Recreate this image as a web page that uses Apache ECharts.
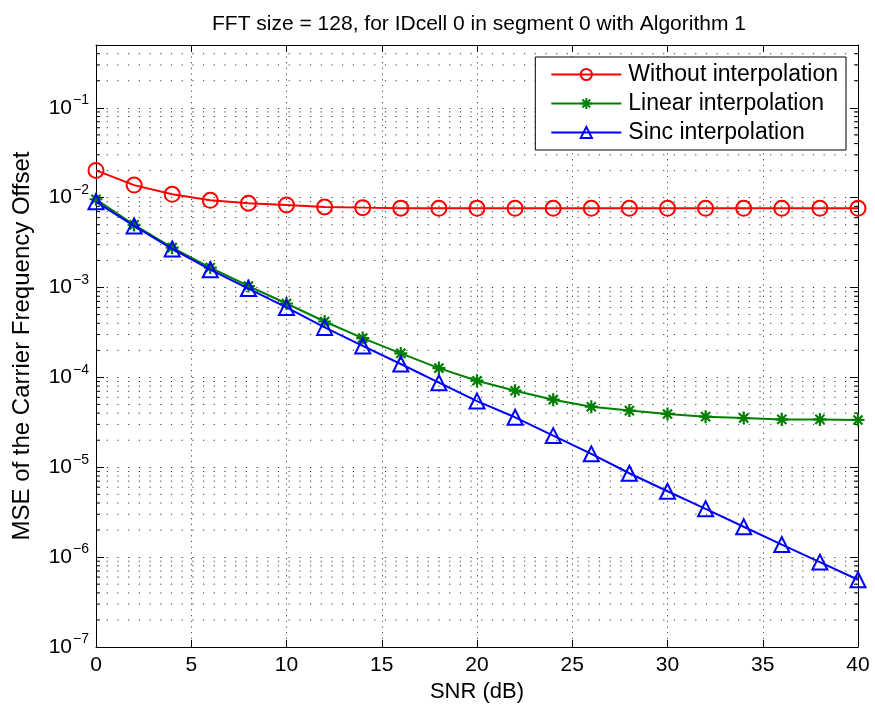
<!DOCTYPE html>
<html>
<head>
<meta charset="utf-8">
<script src="https://cdn.jsdelivr.net/npm/echarts@6/dist/echarts.min.js"></script>
<style>html,body{margin:0;padding:0;background:#fff}#c{width:875px;height:711px}</style>
</head>
<body>
<div id="c"></div>
<script>
const snr = [0,2,4,6,8,10,12,14,16,18,20,22,24,26,28,30,32,34,36,38,40];
const withoutInterp = [0.0201,0.0138,0.0109,0.00935,0.00867,0.0083,0.00788,0.00775,0.00765,0.00762,0.00762,0.00762,0.00762,0.00762,0.00762,0.00762,0.00762,0.00762,0.00762,0.00762,0.00762];
const linearInterp = [0.0096,0.00498,0.00278,0.00167,0.00104,0.000664,0.000419,0.000274,0.000185,0.000127,0.0000919,0.0000711,0.0000565,0.0000472,0.0000427,0.0000392,0.0000366,0.0000353,0.0000341,0.0000341,0.0000336];
const sincInterp = [0.0090,0.00485,0.00269,0.00158,0.000975,0.0006,0.00036,0.000224,0.000141,0.0000873,0.0000545,0.000036,0.0000225,0.0000141,0.00000858,0.00000541,0.00000345,0.00000218,0.00000138,0.00000088,0.00000056];
const seriesNames = ['Without interpolation','Linear interpolation','Sinc interpolation'];
const titleText = 'FFT size = 128, for IDcell 0 in segment 0 with Algorithm 1';
const xName = 'SNR (dB)';
const yName = 'MSE of the Carrier Frequency Offset';
const yMin = 1e-7, yMax = 0.5;
const xMin = 0, xMax = 40;
const minorMultipliers = [2,3,4,5,6,7,8,9];
const decades = [-7,-6,-5,-4,-3,-2,-1];

// minor grid values
const minorVals = [];
decades.forEach(d => minorMultipliers.forEach(m => {
  const v = m * Math.pow(10, d);
  if (v < yMax - 1e-12) minorVals.push(v);
}));

const FONT = 'Liberation Sans, Arial, Helvetica, sans-serif';
const chart = echarts.init(document.getElementById('c'), null, {renderer: 'canvas'});

const dotted = [1.2, 9.5];

const option = {
  backgroundColor: '#fff',
  animation: false,
  title: {
    text: titleText, left: 474, top: 9, textAlign: 'center',
    textStyle: {fontFamily: FONT, fontSize: 21, fontWeight: 'normal', color: '#000'}
  },
  legend: {
    right: 29, top: 57, orient: 'vertical',
    backgroundColor: '#fff', borderColor: '#000', borderWidth: 1,
    padding: [6, 8, 6, 15], itemGap: 6, itemWidth: 70, itemHeight: 14,
    textStyle: {fontFamily: FONT, fontSize: 23, color: '#000', padding: [0,0,0,2]},
    data: seriesNames
  },
  grid: {left: 96, right: 17, top: 45, bottom: 64, show: false},
  xAxis: [{
    type: 'value', min: xMin, max: xMax, interval: 5,
    name: xName, nameLocation: 'middle', nameGap: 30,
    nameTextStyle: {fontFamily: FONT, fontSize: 22, color: '#000'},
    axisLine: {show: true, onZero: false, lineStyle: {color: '#000', width: 1}},
    axisTick: {show: true, inside: true, length: 7, lineStyle: {color: '#000'}},
    axisLabel: {fontFamily: FONT, fontSize: 21, color: '#000', margin: 8},
    splitLine: {show: true, lineStyle: {color: '#000', type: [1.2, 4.5], width: 1, opacity: 0.7}}
  }, {
    type: 'value', min: xMin, max: xMax, interval: 5, position: 'top',
    axisLine: {show: true, onZero: false, lineStyle: {color: '#000'}},
    axisTick: {show: true, inside: true, length: 7, lineStyle: {color: '#000'}},
    axisLabel: {show: false}, splitLine: {show: false}
  }],
  yAxis: [{
    type: 'log', min: yMin, max: yMax, logBase: 10, interval: 1,
    name: yName, nameLocation: 'middle', nameGap: 62,
    nameTextStyle: {fontFamily: FONT, fontSize: 24, color: '#000'},
    axisLine: {show: true, onZero: false, lineStyle: {color: '#000'}},
    axisTick: {show: true, inside: true, length: 8, lineStyle: {color: '#000'}},
    axisLabel: {
      showMaxLabel: false, margin: 7,
      formatter: function (v) {
        const e = Math.round(Math.log10(v));
        return '{b|10}{s|' + (e < 0 ? '\u2212' + (-e) : e) + '}';
      },
      rich: {
        b: {fontFamily: FONT, fontSize: 21, color: '#000'},
        s: {fontFamily: FONT, fontSize: 14, color: '#000', padding: [0, 0, 15, 1]}
      }
    },
    splitLine: {show: true, lineStyle: {color: '#000', type: dotted, width: 1, opacity: 0.8}}
  }, {
    type: 'log', min: yMin, max: yMax, logBase: 10, interval: 1, position: 'right',
    axisLine: {show: true, onZero: false, lineStyle: {color: '#000'}},
    axisTick: {show: true, inside: true, length: 8, lineStyle: {color: '#000'}},
    axisLabel: {show: false}, splitLine: {show: false}
  }],
  series: [
    {
      name: 'minorGrid', type: 'custom', silent: true, z: 1,
      xAxisIndex: 0, yAxisIndex: 0,
      data: minorVals.map(v => [xMin, v]),
      renderItem: function (params, api) {
        const v = api.value(1);
        const a = api.coord([xMin, v]);
        const b = api.coord([xMax, v]);
        return {
          type: 'group',
          children: [
            {type: 'line', shape: {x1: a[0], y1: a[1], x2: b[0], y2: b[1]},
             style: {stroke: '#000', lineWidth: 1, lineDash: dotted, opacity: 0.8}},
            {type: 'line', shape: {x1: a[0], y1: a[1], x2: a[0] + 4, y2: a[1]},
             style: {stroke: '#000', lineWidth: 1}},
            {type: 'line', shape: {x1: b[0] - 4, y1: b[1], x2: b[0], y2: b[1]},
             style: {stroke: '#000', lineWidth: 1}}
          ]
        };
      }
    },
    {
      name: seriesNames[0], type: 'line', z: 5,
      data: snr.map((x, i) => [x, withoutInterp[i]]),
      symbol: 'circle', symbolSize: 15, showAllSymbol: true,
      lineStyle: {color: '#ff0000', width: 2},
      itemStyle: {color: 'rgba(255,255,255,0)', borderColor: '#ff0000', borderWidth: 2}
    },
    {
      name: seriesNames[1], type: 'line', z: 5,
      data: snr.map((x, i) => [x, linearInterp[i]]),
      symbol: 'path://M5,0L5,10M0,5L10,5M1.5,1.5L8.5,8.5M8.5,1.5L1.5,8.5', symbolSize: 13, showAllSymbol: true,
      lineStyle: {color: '#008000', width: 2},
      itemStyle: {color: 'rgba(0,0,0,0)', borderColor: '#008000', borderWidth: 2.2}
    },
    {
      name: seriesNames[2], type: 'line', z: 6,
      data: snr.map((x, i) => [x, sincInterp[i]]),
      symbol: 'triangle', symbolSize: 15, showAllSymbol: true,
      lineStyle: {color: '#0000ff', width: 2},
      itemStyle: {color: 'rgba(255,255,255,0)', borderColor: '#0000ff', borderWidth: 2}
    }
  ]
};
chart.setOption(option);
</script>
</body>
</html>
